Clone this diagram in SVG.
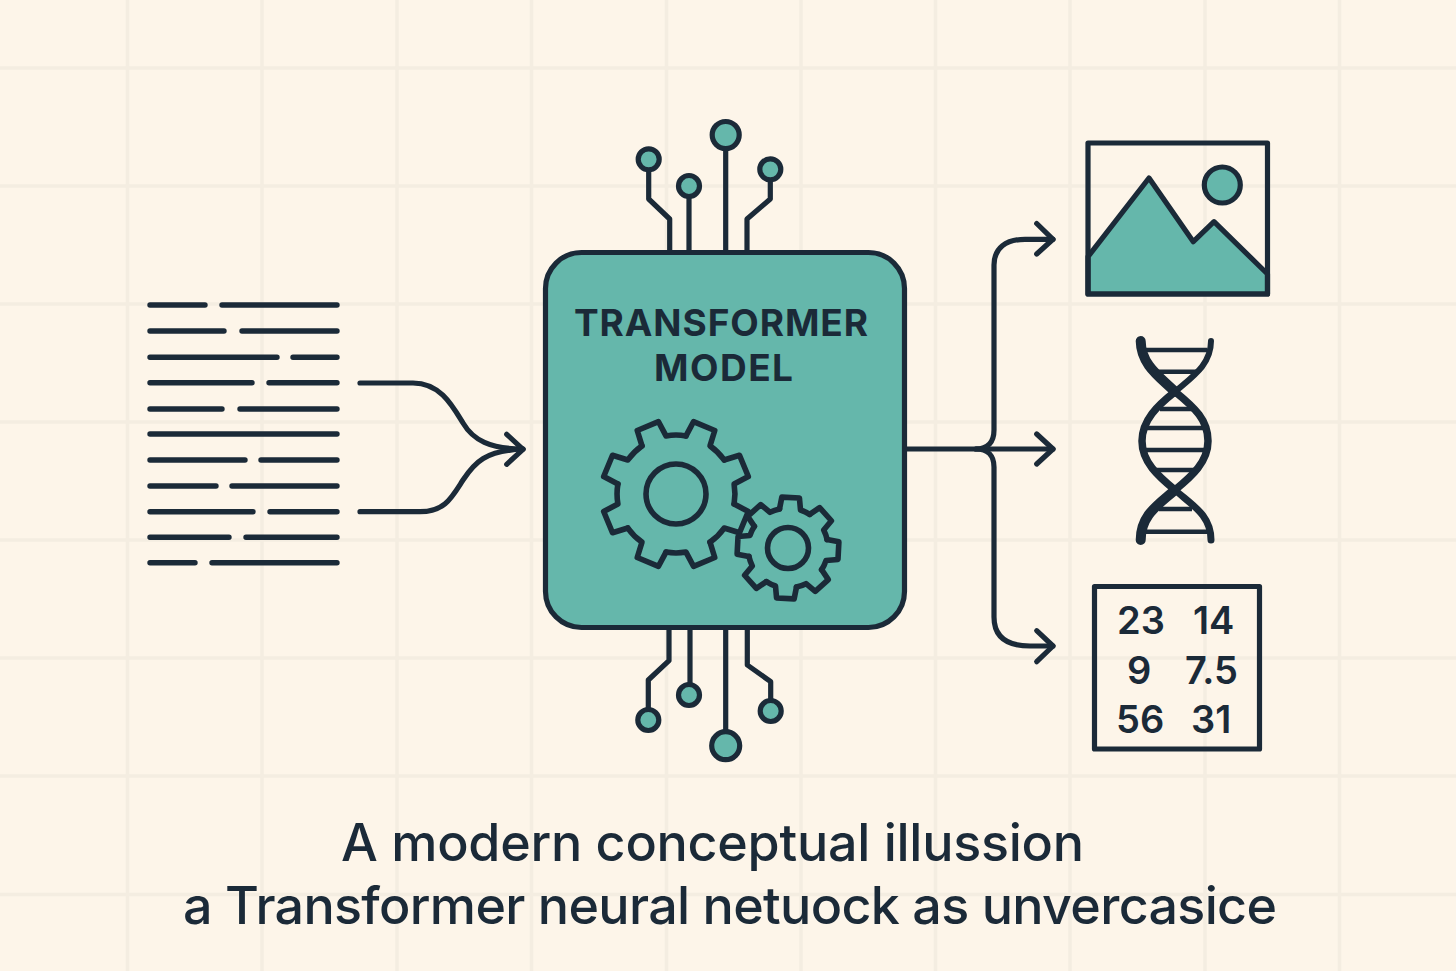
<svg xmlns="http://www.w3.org/2000/svg" xmlns:xlink="http://www.w3.org/1999/xlink" width="1456" height="971" viewBox="0 0 1456 971">
<style>
.grid{stroke:#f4ede1;stroke-width:3.5;fill:none}
.ln{fill:none;stroke:#1b2a38;stroke-width:5.2;stroke-linecap:round;stroke-linejoin:round}
.tl{fill:none;stroke:#1b2a38;stroke-width:5.4;stroke-linecap:round}
.tn{fill:#65b7ab;stroke:#1b2a38;stroke-width:5.2;stroke-linejoin:round}
.gr{fill:none;stroke:#1b2a38;stroke-width:5.6;stroke-linejoin:round;stroke-linecap:round}
.rg{fill:none;stroke:#1b2a38;stroke-width:4.4;stroke-linecap:butt}
.st{fill:none;stroke:#1b2a38;stroke-linecap:round}
text{font-family:Inter,"Liberation Sans",sans-serif;fill:#1b2a38}
.title{font-size:37px;font-weight:700;text-anchor:start}
.num{font-size:38px;font-weight:600}
.cap{font-size:52px;font-weight:500}
</style>
<defs>
<path id="bigT" d="M-13 -57.5L-11.5 -73.5L11.5 -73.5L13 -57.5A59 59 0 0 1 31.47 -49.85"/>
<path id="smT" d="M-10.5 -38.6L-8.8 -50.5L8.8 -50.5L10.5 -38.6A40 40 0 0 1 19.87 -34.72"/>
</defs>
<rect id="background" width="1456" height="971" fill="#fdf5e9"/>
<g id="grid" class="grid">
<path d="M127.5 0V971M262 0V971M397 0V971M531.5 0V971M666.5 0V971M801 0V971M935.5 0V971M1070 0V971M1205 0V971M1339.5 0V971"/>
<path d="M0 68H1456M0 186H1456M0 304H1456M0 422H1456M0 540H1456M0 658H1456M0 776H1456M0 894.5H1456"/>
</g>
<g id="connectors" class="ln">
<path d="M360 383H413C440 383 452 405 463 423C473 440 490 449 523 449"/>
<path d="M360 511.7H420C445 511.7 452 497 463 480C475 462 485 451 523 449"/>
<path d="M506.7 434.3L523 449.3L506.7 464.3"/>
<path d="M906 449H1053"/>
<path d="M976 449C988 449 994 442 994 430V265C994 248 1006 239.3 1025 239.3H1053"/>
<path d="M976 449C988 449 994 456 994 467V617C994 636 1006 646 1030 646H1053"/>
<path d="M1036.7 223.5L1053 239.3L1036.7 254"/>
<path d="M1036.7 434L1053 449L1036.7 464"/>
<path d="M1036.7 630.7L1053 646L1036.7 661.7"/>
</g>
<g id="text-lines" class="tl">
<path d="M150 305H205M222 305H337"/>
<path d="M150 331H224M242 331H337"/>
<path d="M150 357.3H277M293 357.3H337"/>
<path d="M150 382.7H252M269 382.7H337"/>
<path d="M150 409H222M240 409H337"/>
<path d="M150 434H337"/>
<path d="M150 460H245M261 460H337"/>
<path d="M150 486H216M232 486H337"/>
<path d="M150 511.7H253M270 511.7H337"/>
<path d="M150 537.3H229M246 537.3H337"/>
<path d="M150 562.7H195M212 562.7H337"/>
</g>
<g id="circuit-top" class="ln">
<path d="M648.7 172V199L669.7 219V251"/>
<path d="M689 198V251"/>
<path d="M725.7 150V251"/>
<path d="M770.3 181V199L747 219V251"/>
<circle class="tn" cx="648.7" cy="159.3" r="10.5"/>
<circle class="tn" cx="689" cy="186" r="10.5"/>
<circle class="tn" cx="725.7" cy="135" r="13.5"/>
<circle class="tn" cx="770.3" cy="169.3" r="10.5"/>
</g>
<g id="circuit-bottom" class="ln">
<path d="M669 628V660.7L648.3 680V708"/>
<path d="M690 628V683"/>
<path d="M725.7 628V731"/>
<path d="M747.3 628V665L770.7 681.7V700"/>
<circle class="tn" cx="648.3" cy="720" r="10.5"/>
<circle class="tn" cx="689" cy="695" r="10.5"/>
<circle class="tn" cx="725.7" cy="745.7" r="14"/>
<circle class="tn" cx="770.7" cy="711" r="10.5"/>
</g>
<g id="transformer-model">
<rect class="tn" x="545.5" y="252.5" width="359" height="375" rx="36"/>
<text class="title" x="574" y="336" textLength="294" lengthAdjust="spacing">TRANSFORMER</text>
<text class="title" x="654" y="381" textLength="139" lengthAdjust="spacing">MODEL</text>
<g id="gear-large" class="gr">
<use href="#bigT" transform="translate(676 494) rotate(22.5)"/>
<use href="#bigT" transform="translate(676 494) rotate(67.5)"/>
<use href="#bigT" transform="translate(676 494) rotate(112.5)"/>
<use href="#bigT" transform="translate(676 494) rotate(157.5)"/>
<use href="#bigT" transform="translate(676 494) rotate(202.5)"/>
<use href="#bigT" transform="translate(676 494) rotate(247.5)"/>
<use href="#bigT" transform="translate(676 494) rotate(292.5)"/>
<use href="#bigT" transform="translate(676 494) rotate(337.5)"/>
<circle cx="676" cy="494" r="30"/>
</g>
<g id="gear-small" class="gr">
<use href="#smT" transform="translate(788 548) rotate(3)"/>
<use href="#smT" transform="translate(788 548) rotate(48)"/>
<use href="#smT" transform="translate(788 548) rotate(93)"/>
<use href="#smT" transform="translate(788 548) rotate(138)"/>
<use href="#smT" transform="translate(788 548) rotate(183)"/>
<use href="#smT" transform="translate(788 548) rotate(228)"/>
<use href="#smT" transform="translate(788 548) rotate(273)"/>
<use href="#smT" transform="translate(788 548) rotate(318)"/>
<circle cx="788" cy="548" r="20.5"/>
</g>
</g>
<g id="image-icon">
<path class="tn" d="M1088 256.7L1149 178L1193.3 241.7L1214 221.7L1267.5 274V294H1088Z"/>
<circle class="tn" cx="1222.3" cy="185" r="18"/>
<rect class="ln" x="1088" y="143" width="179.5" height="151"/>
</g>
<g id="dna-icon">
<path class="rg" d="M1145 350H1207M1158 371.7H1197M1160 409H1192M1145 428H1203M1143 450H1205M1153 470H1197M1159 509H1192M1145 531.7H1207"/>
<path class="st" stroke-width="10" d="M1140.7 341C1141 365 1160 377 1175 391.7"/>
<path class="st" stroke-width="7.5" d="M1175 391.7C1195 408 1208 420 1208 441C1208 462 1192 476 1175 490"/>
<path class="st" stroke-width="6" d="M1211 341C1211 365 1192 377 1175 391.7"/>
<path class="st" stroke-width="7.5" d="M1175 391.7C1158 405 1142 420 1142 441C1142 462 1158 476 1175 490"/>
<path class="st" stroke-width="10" d="M1175 490C1158 505 1140.7 515 1140.7 540"/>
<path class="st" stroke-width="7" d="M1175 490C1192 505 1211 515 1211 540"/>
</g>
<g id="matrix-icon">
<rect class="ln" x="1094.5" y="586.5" width="165" height="162.5"/>
<text class="num" x="1117" y="634.3">23</text>
<text class="num" x="1193" y="634.3">14</text>
<text class="num" x="1127" y="684">9</text>
<text class="num" x="1185" y="684">7.5</text>
<text class="num" x="1116" y="733">56</text>
<text class="num" x="1191" y="733">31</text>
</g>
<g id="caption">
<text class="cap" x="341" y="861" textLength="743" lengthAdjust="spacing">A modern conceptual illussion</text>
<text class="cap" x="183" y="924" textLength="1094" lengthAdjust="spacing">a Transformer neural netuock as unvercasice</text>
</g>
</svg>
